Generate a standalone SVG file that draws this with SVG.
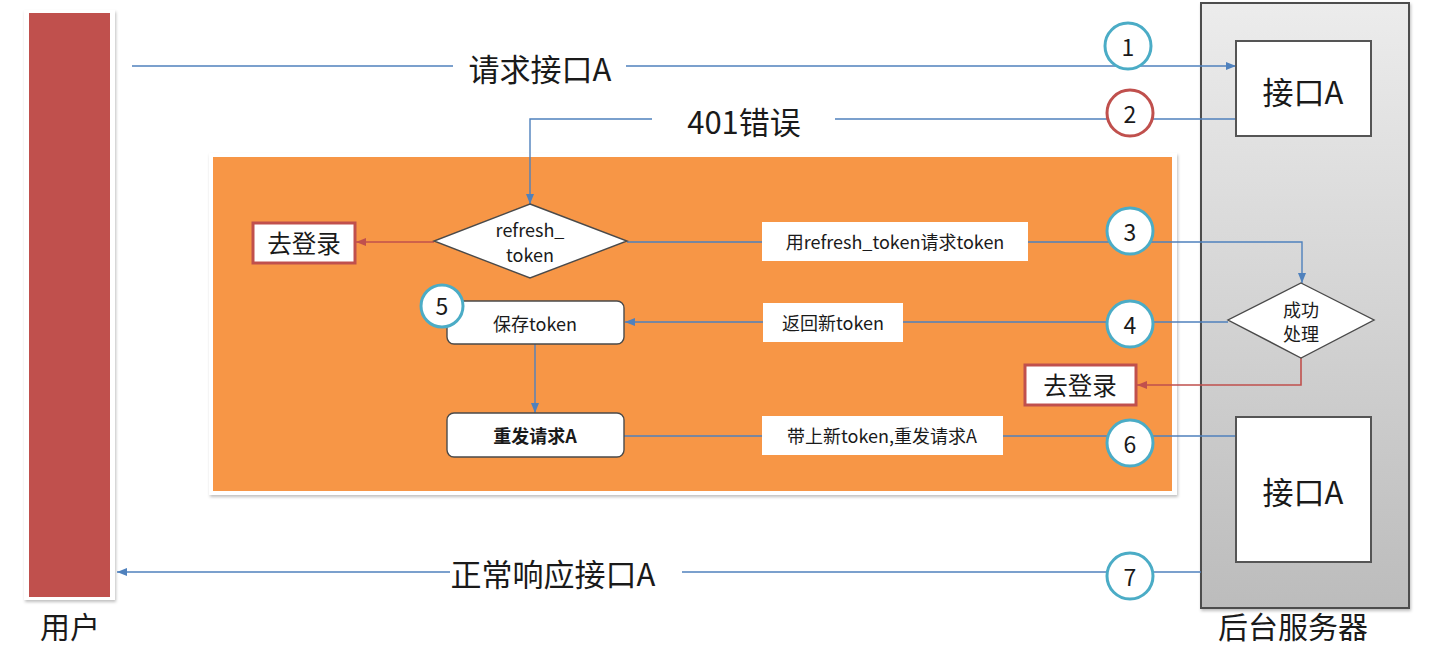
<svg xmlns="http://www.w3.org/2000/svg" width="1443" height="649" viewBox="0 0 1443 649">
  <defs>
    <linearGradient id="serverFill" x1="0" y1="0" x2="0" y2="1">
      <stop offset="0" stop-color="#ececec"/>
      <stop offset="1" stop-color="#bcbcbc"/>
    </linearGradient>
    <filter id="shadow" x="-5%" y="-5%" width="110%" height="110%">
      <feDropShadow dx="1" dy="2" stdDeviation="1.5" flood-color="#000" flood-opacity="0.25"/>
    </filter>
    <marker id="arrowBlue" viewBox="0 0 10 10" refX="10" refY="5" markerWidth="11" markerHeight="10" markerUnits="userSpaceOnUse" orient="auto">
      <path d="M0,1 L10,5 L0,9 Z" fill="#4F81BD"/>
    </marker>
    <marker id="arrowRed" viewBox="0 0 10 10" refX="10" refY="5" markerWidth="11" markerHeight="10" markerUnits="userSpaceOnUse" orient="auto">
      <path d="M0,1 L10,5 L0,9 Z" fill="#C0504D"/>
    </marker>
  </defs>
  <style>
    text { font-family: "Noto Sans CJK SC", "Noto Sans", sans-serif; fill: #1a1a1a; text-anchor: middle; dominant-baseline: central; }
    .big { font-size: 31px; }
    .caption { font-size: 30px; }
    .mid { font-size: 24.5px; }
    .small { font-size: 18px; }
    .num { font-size: 23px; }
    .link { fill: none; stroke: #4F81BD; stroke-width: 1.4; }
    .link-red { fill: none; stroke: #C0504D; stroke-width: 1.6; }
    .tag { fill: #ffffff; stroke: none; }
    .step { fill: #ffffff; stroke: #4BACC6; stroke-width: 3; }
    .step-red { fill: #ffffff; stroke: #C0504D; stroke-width: 3; }
    .login { fill: #ffffff; stroke: #C0504D; stroke-width: 3; }
    .proc { fill: #ffffff; stroke: #4a4a4a; stroke-width: 1.4; }
    .api { fill: #ffffff; stroke: #555555; stroke-width: 2; }
  </style>

  <!-- client column -->
  <g id="user">
    <rect x="24" y="10" width="91" height="590" fill="#ffffff" filter="url(#shadow)"/>
    <rect x="29" y="13" width="81" height="584" fill="#C0504D"/>
    <text class="caption" x="70" y="625">用户</text>
  </g>

  <!-- backend server column -->
  <g id="server">
    <rect x="1201" y="3" width="208" height="605" fill="url(#serverFill)" stroke="#4d4d4d" stroke-width="2" filter="url(#shadow)"/>
    <text class="caption" x="1293" y="625">后台服务器</text>
  </g>

  <!-- refresh flow panel -->
  <g id="refresh-panel">
    <rect x="209" y="153" width="968" height="342" fill="#ffffff" filter="url(#shadow)"/>
    <rect x="213" y="157" width="959" height="334" fill="#F79646"/>
  </g>

  <!-- connectors -->
  <g id="connectors">
    <path class="link" d="M132,66 H453"/>
    <path class="link" d="M626,66 H1236" marker-end="url(#arrowBlue)"/>
    <path class="link" d="M1236,119 H835"/>
    <path class="link" d="M652,119 H530 V204" marker-end="url(#arrowBlue)"/>
    <path class="link-red" d="M434,242 H356" marker-end="url(#arrowRed)"/>
    <path class="link" d="M627,242 H1302 V283" marker-end="url(#arrowBlue)"/>
    <path class="link" d="M1228,322 H625" marker-end="url(#arrowBlue)"/>
    <path class="link-red" d="M1301,358 V385 H1137" marker-end="url(#arrowRed)"/>
    <path class="link" d="M535,344 V413" marker-end="url(#arrowBlue)"/>
    <path class="link" d="M624,436 H1236"/>
    <path class="link" d="M1201,572 H682"/>
    <path class="link" d="M450,572 H117" marker-end="url(#arrowBlue)"/>
  </g>

  <!-- free-standing labels -->
  <g id="label-request">
    <text class="big" x="540" y="67">请求接口A</text>
  </g>
  <g id="label-401">
    <text class="big" x="744" y="120">401错误</text>
  </g>
  <g id="label-response">
    <text class="big" x="553" y="572">正常响应接口A</text>
  </g>

  <!-- interface A boxes -->
  <g id="api-a-top">
    <rect class="api" x="1236" y="41" width="135" height="95"/>
    <text class="big" x="1303" y="90">接口A</text>
  </g>
  <g id="api-a-bottom">
    <rect class="api" x="1236" y="417" width="135" height="145"/>
    <text class="big" x="1303" y="490">接口A</text>
  </g>

  <!-- decisions -->
  <g id="refresh-check">
    <polygon class="proc" points="530,204 627,241 530,278 434,241"/>
    <text class="small" x="530" y="229">refresh_</text>
    <text class="small" x="530" y="254">token</text>
  </g>
  <g id="success-check">
    <polygon class="proc" points="1301,283 1374,320 1301,358 1228,320"/>
    <text class="small" x="1301" y="309">成功</text>
    <text class="small" x="1301" y="333">处理</text>
  </g>

  <!-- login fallbacks -->
  <g id="login-left">
    <rect class="login" x="253" y="223" width="102" height="40"/>
    <text class="mid" x="304" y="242">去登录</text>
  </g>
  <g id="login-right">
    <rect class="login" x="1025" y="365" width="111" height="40"/>
    <text class="mid" x="1080" y="384">去登录</text>
  </g>

  <!-- client steps -->
  <g id="save-token">
    <rect class="proc" x="447" y="301" width="177" height="43" rx="7"/>
    <text class="small" x="535" y="323">保存token</text>
  </g>
  <g id="resend">
    <rect class="proc" x="447" y="413" width="177" height="44" rx="7"/>
    <text class="small" x="535" y="435" font-weight="bold">重发请求A</text>
  </g>

  <!-- connector tags -->
  <g id="tag-refresh">
    <rect class="tag" x="762" y="222" width="266" height="39"/>
    <text class="small" x="895" y="241">用refresh_token请求token</text>
  </g>
  <g id="tag-new-token">
    <rect class="tag" x="763" y="303" width="140" height="39"/>
    <text class="small" x="833" y="322">返回新token</text>
  </g>
  <g id="tag-resend">
    <rect class="tag" x="762" y="416" width="241" height="39"/>
    <text class="small" x="882" y="435">带上新token,重发请求A</text>
  </g>

  <!-- step markers -->
  <g id="step-1">
    <circle class="step" cx="1128" cy="46" r="23"/>
    <text class="num" x="1128" y="46">1</text>
  </g>
  <g id="step-2">
    <circle class="step-red" cx="1130" cy="113" r="23"/>
    <text class="num" x="1130" y="113">2</text>
  </g>
  <g id="step-3">
    <circle class="step" cx="1130" cy="231" r="23"/>
    <text class="num" x="1130" y="231">3</text>
  </g>
  <g id="step-4">
    <circle class="step" cx="1130" cy="324" r="23"/>
    <text class="num" x="1130" y="324">4</text>
  </g>
  <g id="step-5">
    <circle class="step" cx="442" cy="306" r="21"/>
    <text class="num" x="442" y="305">5</text>
  </g>
  <g id="step-6">
    <circle class="step" cx="1130" cy="443" r="23"/>
    <text class="num" x="1130" y="443">6</text>
  </g>
  <g id="step-7">
    <circle class="step" cx="1130" cy="576" r="23"/>
    <text class="num" x="1130" y="576">7</text>
  </g>
</svg>
